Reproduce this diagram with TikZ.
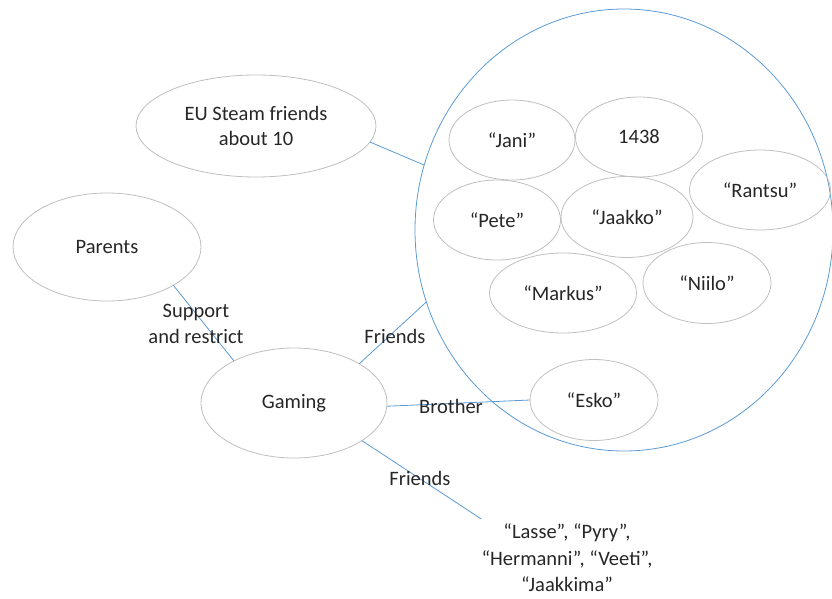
\documentclass[tikz,border=0pt]{standalone}
\usepackage{fontspec}
\setmainfont{Carlito}
\usetikzlibrary{shapes.geometric}
\definecolor{linkblue}{HTML}{5B9BD5}
\definecolor{rimgray}{HTML}{BFBFBF}
\definecolor{inkgray}{HTML}{262626}
\begin{document}
\begin{tikzpicture}[x=1pt,y=-1pt,
  every node/.style={text=inkgray,font=\fontsize{20.5}{26.5}\selectfont,align=center},
  bubble/.style={ellipse,draw=rimgray,line width=0.8pt,inner sep=0pt,outer sep=0pt},
  link/.style={draw=linkblue,line width=0.8pt},
  tag/.style={inner sep=1pt}]
\useasboundingbox (0,0) rectangle (832,599);
\clip (0,0) rectangle (832,599);

% the friend circle
\node[ellipse,draw=linkblue,line width=0.8pt,minimum width=418pt,minimum height=442pt,inner sep=0pt,outer sep=0pt] (group) at (624,230) {};

% outer bubbles
\node[bubble,minimum width=240pt,minimum height=102pt,font=\fontsize{20.5}{25.5}\selectfont] (eu) at (256,126) {EU Steam friends\\about 10};
\node[bubble,minimum width=188pt,minimum height=108pt] (parents) at (107,247) {Parents};
\node[bubble,minimum width=186pt,minimum height=110pt] (gaming) at (294,403) {Gaming};

% bubbles inside the circle
\node[bubble,minimum width=126pt,minimum height=80pt] (jani) at (512,140) {“Jani”};
\node[bubble,minimum width=127pt,minimum height=80pt] (n1438) at (639,137) {1438};
\node[bubble,minimum width=141pt,minimum height=80pt] (rantsu) at (760,190) {“Rantsu”};
\node[bubble,minimum width=127pt,minimum height=80pt] (pete) at (497,220) {“Pete”};
\node[bubble,minimum width=132pt,minimum height=81pt] (jaakko) at (627,217) {“Jaakko”};
\node[bubble,minimum width=147pt,minimum height=80pt] (markus) at (563,293) {“Markus”};
\node[bubble,minimum width=128pt,minimum height=81pt] (niilo) at (707,283) {“Niilo”};
\node[bubble,minimum width=128pt,minimum height=81pt] (esko) at (594,400) {“Esko”};

% other friends, unboxed
\node[inner xsep=0pt,inner ysep=5pt,anchor=north] (rest) at (567,519) {“Lasse”, “Pyry”,\\“Hermanni”, “Veeti”,\\“Jaakkima”};

% connectors
\draw[link] (eu.-8) -- (group.162);
\draw[link] (parents.-30) -- (gaming.145);
\draw[link] (gaming.31) -- (group.200);
\draw[link] (gaming.-2.5) -- (esko.west);
\draw[link] (gaming.-29) -- (rest.north west);

% connector labels
\node[tag,font=\fontsize{20.5}{25.5}\selectfont] (lsupport) at (196,324) {Support\\and restrict};
\node[tag] (lfriends) at (395,336) {Friends};
\node[tag] (lbrother) at (451,406) {Brother};
\node[tag] (lfriends2) at (420,478) {Friends};
\end{tikzpicture}
\end{document}
